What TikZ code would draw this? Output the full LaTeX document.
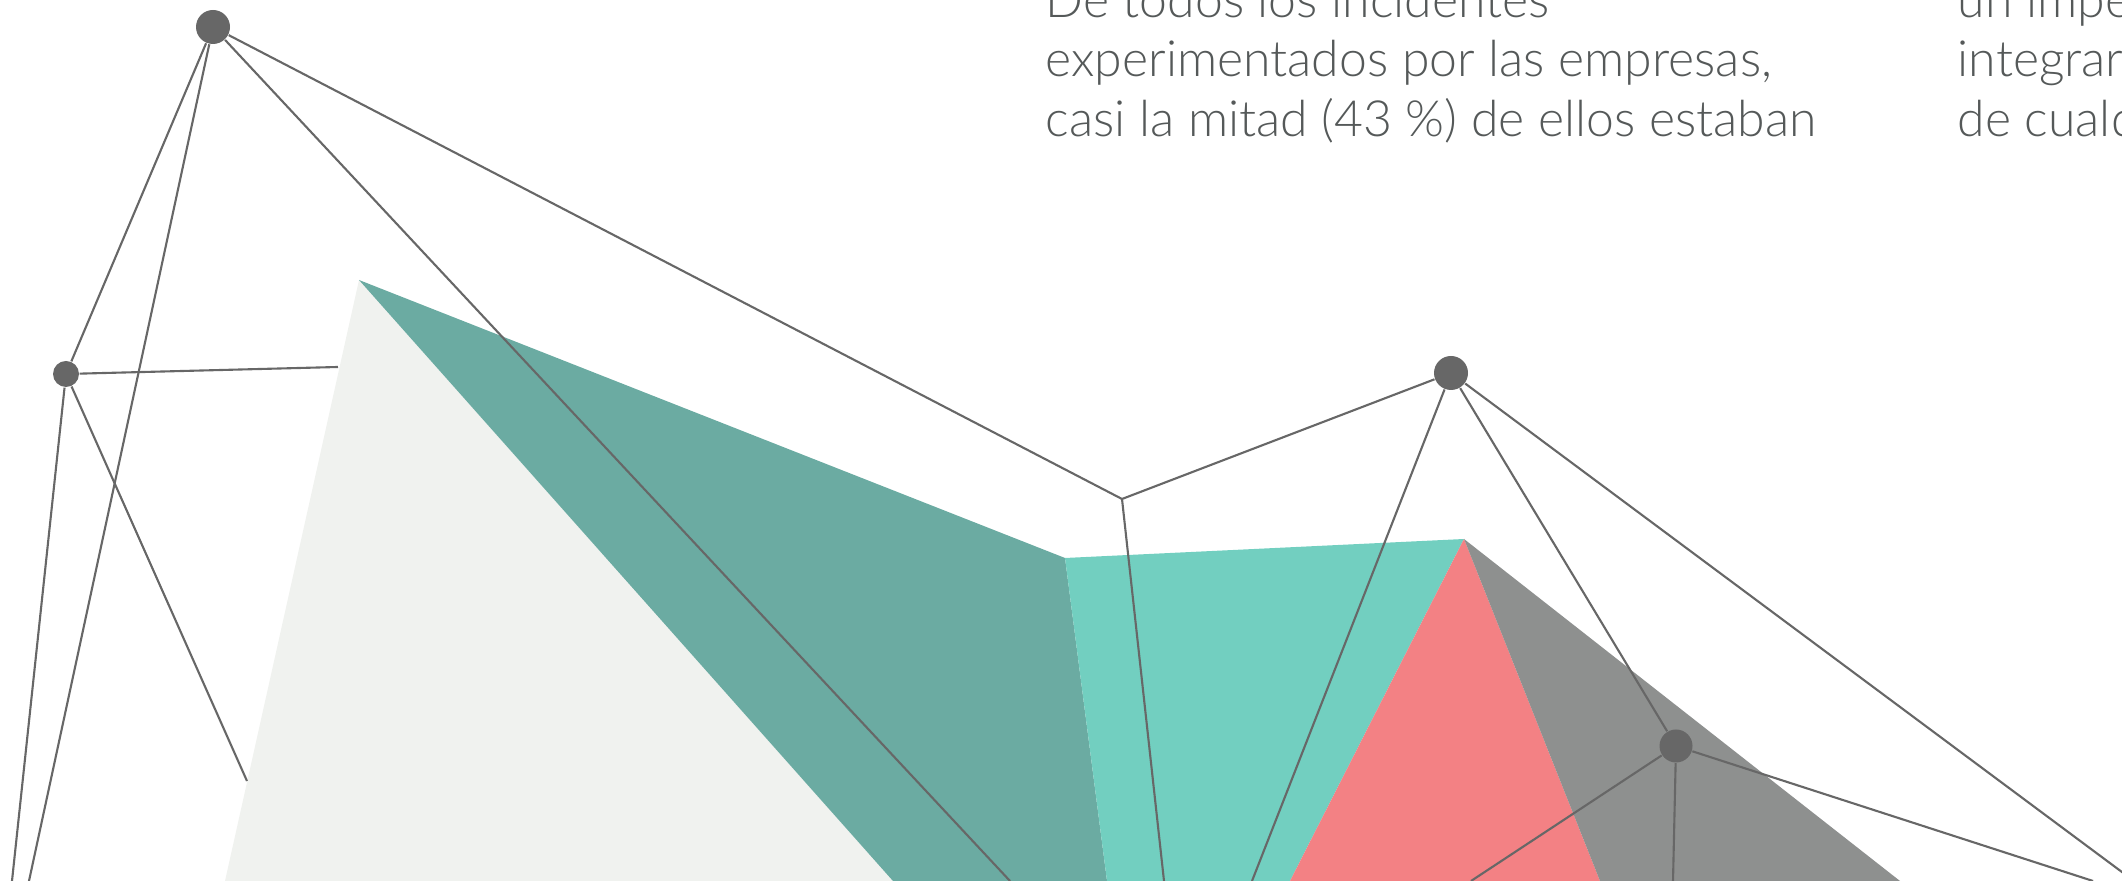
\documentclass[tikz,border=0pt]{standalone}
\usepackage{fontspec}
\setmainfont{Lato Light}
\usepackage{tikz}

\definecolor{hubgray}{HTML}{676767}
\definecolor{paper}{HTML}{F0F2EF}
\definecolor{deepteal}{HTML}{6BABA2}
\definecolor{mint}{HTML}{72CFC0}
\definecolor{salmon}{HTML}{F38184}
\definecolor{stone}{HTML}{8E908F}
\definecolor{inkgray}{HTML}{555959}

\tikzset{
  hub/.style={circle, fill=hubgray, inner sep=0pt, minimum size=#1},
  link/.style={hubgray, line width=0.6pt},
  blurb/.style={anchor=base west, inner sep=0pt, text=inkgray, font=\fontsize{14.2}{17}\selectfont}
}

\begin{document}
\begin{tikzpicture}
  % Cadre de l'image
  \useasboundingbox (0,0) rectangle (21.22,8.81);
  \clip (0,0) rectangle (21.22,8.81);

  % Tracer les facettes colorées
  \fill[paper] (3.59,6.01) -- (2.25,0) -- (8.93,0) -- cycle;
  \fill[deepteal] (3.59,6.01) -- (10.65,3.23) -- (11.07,0) -- (8.93,0) -- cycle;
  \fill[mint] (10.65,3.23) -- (14.64,3.42) -- (12.90,0) -- (11.07,0) -- cycle;
  \fill[salmon] (14.64,3.42) -- (12.90,0) -- (16.00,0) -- cycle;
  \fill[stone] (14.64,3.42) -- (16.00,0) -- (19.00,0) -- cycle;

  % Les noeuds du réseau
  \node[hub=0.34cm] (a) at (2.13,8.54) {};
  \node[hub=0.26cm] (b) at (0.66,5.07) {};
  \node[hub=0.34cm] (c) at (14.51,5.08) {};
  \node[hub=0.33cm] (e) at (16.76,1.35) {};
  \coordinate (d) at (11.22,3.82);

  % Extrémités libres
  \coordinate (a1) at (0.29,0);
  \coordinate (a2) at (10.10,0);
  \coordinate (b1) at (0.12,0);
  \coordinate (b2) at (3.38,5.14);
  \coordinate (b3) at (2.47,1.00);
  \coordinate (d1) at (11.64,0);
  \coordinate (c1) at (12.52,0);
  \coordinate (c2) at (21.34,0);
  \coordinate (e1) at (14.71,0);
  \coordinate (e2) at (16.73,0);
  \coordinate (e3) at (20.93,0);

  % Tracer les liens
  \draw[link] (a) -- (b);
  \draw[link] (a) -- (a1);
  \draw[link] (a) -- (a2);
  \draw[link] (a) -- (d);
  \draw[link] (b) -- (b1);
  \draw[link] (b) -- (b2);
  \draw[link] (b) -- (b3);
  \draw[link] (d) -- (c);
  \draw[link] (d) -- (d1);
  \draw[link] (c) -- (c1);
  \draw[link] (c) -- (c2);
  \draw[link] (c) -- (e);
  \draw[link] (e) -- (e1);
  \draw[link] (e) -- (e2);
  \draw[link] (e) -- (e3);

  % Ajouter le texte
  \node[blurb] (t1) at (10.45,8.63) {De todos los incidentes};
  \node[blurb] (t2) at (10.45,8.04) {experimentados por las empresas,};
  \node[blurb] (t3) at (10.45,7.44) {casi la mitad (43 \%) de ellos estaban};
  \node[blurb] (u1) at (19.57,8.63) {un impe};
  \node[blurb] (u2) at (19.57,8.04) {integrar};
  \node[blurb] (u3) at (19.57,7.44) {de cualq};
\end{tikzpicture}
\end{document}
